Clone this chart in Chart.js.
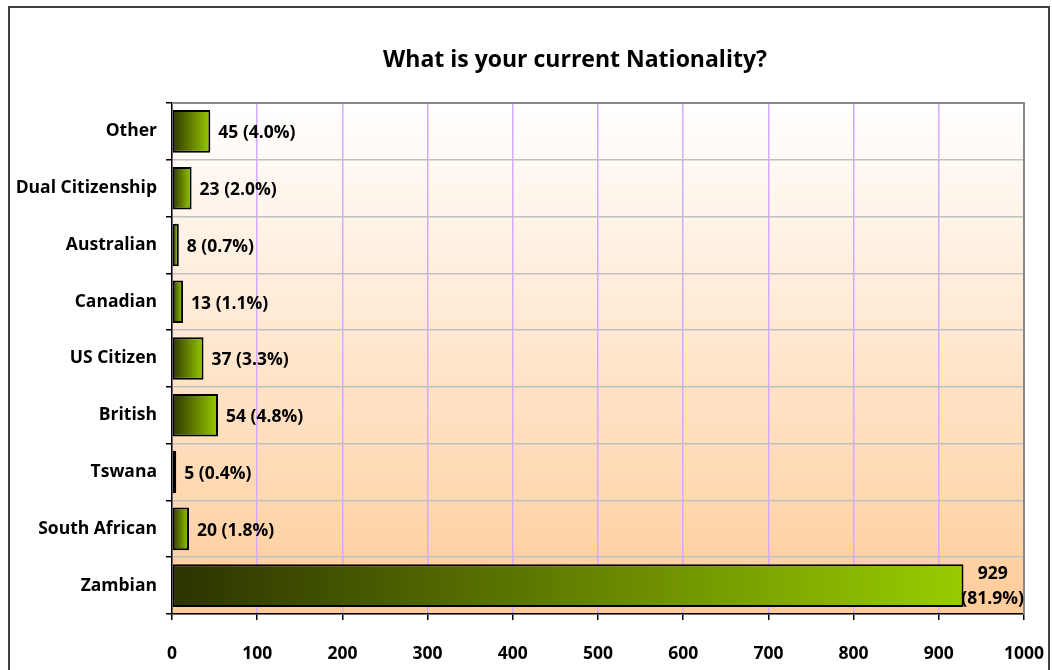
<!DOCTYPE html>
<html>
<head>
<meta charset="utf-8">
<script src="https://cdn.jsdelivr.net/npm/chart.js@4"></script>
<style>
  body { margin: 0; background: #fff; }
  canvas { display: block; }
</style>
</head>
<body>
<canvas id="natChart" width="1052" height="670"></canvas>
<script>
// Chart data
const titleText = 'What is your current Nationality?';
const categories = ['Other', 'Dual Citizenship', 'Australian', 'Canadian', 'US Citizen', 'British', 'Tswana', 'South African', 'Zambian'];
const counts = [45, 23, 8, 13, 37, 54, 5, 20, 929];
const percents = ['4.0', '2.0', '0.7', '1.1', '3.3', '4.8', '0.4', '1.8', '81.9'];
const xTicks = [0, 100, 200, 300, 400, 500, 600, 700, 800, 900, 1000];

const FONT = '"Open Sans", "DejaVu Sans", sans-serif';
const FONT_SIZE = 17.5;

// Bar fill: dark olive to lime, across each bar
function barFill(context) {
    const chart = context.chart;
    const x = chart.scales.x;
    if (!chart.chartArea || !x) return '#99CC00';
    const v = counts[context.dataIndex];
    const x0 = x.getPixelForValue(0);
    const x1 = x.getPixelForValue(v);
    const g = chart.ctx.createLinearGradient(x0, 0, x1, 0);
    g.addColorStop(0, '#2B3300');
    g.addColorStop(1, '#99CC00');
    return g;
}

// Background, frame and title
const framePlugin = {
    id: 'frame',
    beforeDraw(chart) {
        const ctx = chart.ctx;
        const a = chart.chartArea;
        ctx.save();
        ctx.fillStyle = '#fff';
        ctx.fillRect(0, 0, chart.width, chart.height);
        const g = ctx.createLinearGradient(0, a.top, 0, a.bottom);
        g.addColorStop(0, '#FFFFFF');
        g.addColorStop(1, '#FFCC99');
        ctx.fillStyle = g;
        ctx.fillRect(a.left, a.top, a.right - a.left, a.bottom - a.top);
        // outer border
        ctx.strokeStyle = '#404040';
        ctx.lineWidth = 2;
        ctx.strokeRect(9, 7, 1040, 700);
        // title
        ctx.fillStyle = '#000';
        ctx.font = 'bold 23px ' + FONT;
        ctx.textAlign = 'center';
        ctx.textBaseline = 'middle';
        ctx.fillText(titleText, 575, 60);
        ctx.restore();
    },
    beforeDatasetsDraw(chart) {
        const ctx = chart.ctx;
        const a = chart.chartArea;
        ctx.save();
        ctx.strokeStyle = '#888888';
        ctx.lineWidth = 2;
        ctx.beginPath();
        ctx.moveTo(a.left, a.top);
        ctx.lineTo(a.right, a.top);
        ctx.lineTo(a.right, a.bottom);
        ctx.stroke();
        ctx.restore();
    }
};

// Value labels "n (p%)"
const labelPlugin = {
    id: 'valueLabels',
    afterDatasetsDraw(chart) {
        const ctx = chart.ctx;
        const a = chart.chartArea;
        const meta = chart.getDatasetMeta(0);
        ctx.save();
        ctx.fillStyle = '#000';
        ctx.font = 'bold ' + FONT_SIZE + 'px ' + FONT;
        ctx.textBaseline = 'middle';
        meta.data.forEach((bar, i) => {
            const text = counts[i] + ' (' + percents[i] + '%)';
            const w = ctx.measureText(text).width;
            if (bar.x + 8 + w <= a.right) {
                ctx.textAlign = 'left';
                ctx.fillText(text, bar.x + 8, bar.y + 2);
            } else {
                const lines = [String(counts[i]), '(' + percents[i] + '%)'];
                const mw = Math.max(...lines.map(l => ctx.measureText(l).width));
                ctx.textAlign = 'center';
                const cx = a.right - mw / 2;
                ctx.fillText(lines[0], cx, bar.y - 12);
                ctx.fillText(lines[1], cx, bar.y + 13);
            }
        });
        ctx.restore();
    }
};

const ctx = document.getElementById('natChart').getContext('2d');
const natChart = new Chart(ctx, {
    type: 'bar',
    data: {
        labels: categories,
        datasets: [{
            data: counts,
            backgroundColor: barFill,
            borderColor: '#000',
            borderWidth: 2,
            borderSkipped: false,
            categoryPercentage: 1,
            barPercentage: 0.75
        }]
    },
    options: {
        indexAxis: 'y',
        responsive: false,
        animation: false,
        layout: { padding: { left: 0, right: 28, top: 103, bottom: 0 } },
        plugins: {
            legend: { display: false },
            title: { display: false },
            tooltip: { enabled: false }
        },
        scales: {
            x: {
                min: 0,
                max: 1000,
                afterFit(scale) {
                    scale.height = 56;
                    scale.paddingLeft = 0;
                    scale.paddingRight = 0;
                },
                afterBuildTicks(scale) { scale.ticks = xTicks.map(v => ({ value: v })); },
                grid: { color: '#D4AAFF', lineWidth: 1.5, tickColor: '#000', tickLength: 6 },
                border: { color: '#000', width: 1.5 },
                ticks: {
                    color: '#000', padding: 24, maxRotation: 0,
                    callback: v => String(v),
                    font: { family: FONT, size: FONT_SIZE, weight: 'bold' }
                }
            },
            y: {
                afterFit(scale) { scale.width = 172; },
                grid: { color: '#C0C0C0', lineWidth: 1.5, tickColor: '#000', tickLength: 6, offset: true },
                border: { color: '#000', width: 1.5 },
                ticks: { color: '#000', padding: 9, font: { family: FONT, size: FONT_SIZE, weight: 'bold' } }
            }
        }
    },
    plugins: [framePlugin, labelPlugin]
});
</script>
</body>
</html>
